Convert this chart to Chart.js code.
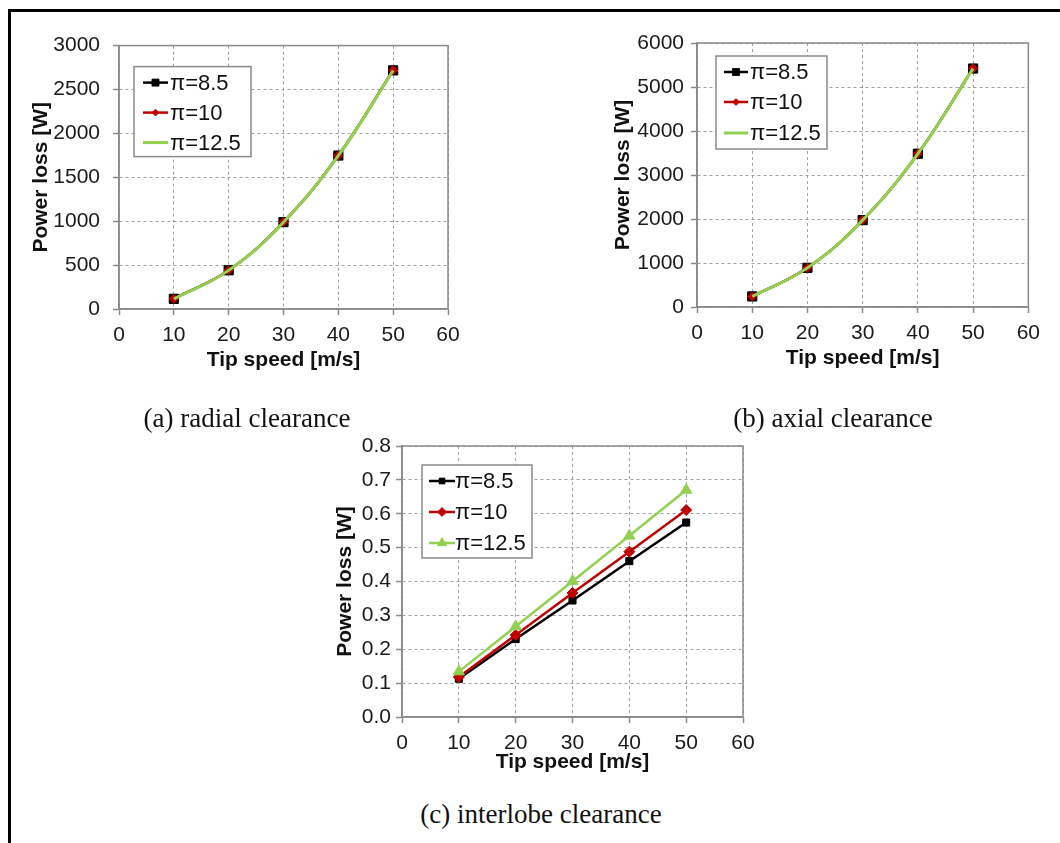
<!doctype html>
<html lang="en">
<head>
<meta charset="utf-8">
<title>Power loss vs tip speed</title>
<script src="https://cdn.jsdelivr.net/npm/chart.js@4.4.0/dist/chart.umd.min.js"></script>
<style>
  body { margin: 0; background: #fff; }
  #fig { position: relative; width: 1060px; height: 843px; overflow: hidden; }
  #frame { position: absolute; left: 8px; top: 9px; width: 1200px; height: 1000px;
           border-left: 3px solid #000; border-top: 3px solid #000; }
  .box { position: absolute; }
  .cap { position: absolute; font-family: "Liberation Serif", "Times New Roman", serif;
         font-size: 27px; line-height: 30px; color: #111; white-space: nowrap;
         transform: translateX(-50%); }
</style>
</head>
<body>
<div id="fig">
  <div id="frame"></div>

  <div class="box" style="left:20px; top:20px;"><canvas id="radialChart" width="450" height="360"></canvas></div>
  <div class="box" style="left:598px; top:20px;"><canvas id="axialChart" width="450" height="360"></canvas></div>
  <div class="box" style="left:320px; top:425px;"><canvas id="interlobeChart" width="450" height="370"></canvas></div>

  <div class="cap" style="left:247px; top:403px;">(a) radial clearance</div>
  <div class="cap" style="left:833px; top:403px;">(b) axial clearance</div>
  <div class="cap" style="left:541px; top:799px;">(c) interlobe clearance</div>
</div>

<script>
// data
var tipSpeed = [10, 20, 30, 40, 50];
var seriesNames = ['π=8.5', 'π=10', 'π=12.5'];

var radial_85  = [116, 441, 990, 1748, 2718];
var radial_10  = [116, 441, 990, 1749, 2720];
var radial_125 = [115, 440, 989, 1747, 2716];

var axial_85  = [240, 890, 1975, 3484, 5420];
var axial_10  = [240, 891, 1976, 3485, 5422];
var axial_125 = [239, 889, 1974, 3483, 5418];

var interlobe_85  = [0.113, 0.230, 0.344, 0.460, 0.574];
var interlobe_10  = [0.118, 0.242, 0.366, 0.488, 0.611];
var interlobe_125 = [0.134, 0.267, 0.401, 0.535, 0.670];

var FONT = '"Liberation Sans", Arial, sans-serif';
var BLACK = '#000000', RED = '#c00000', GREEN = '#92d050';
var AXIS_GREY = '#8a8a8a';

function pts(ys) {
  return tipSpeed.map(function (x, i) { return { x: x, y: ys[i] }; });
}

// grey solid frame round the plot area
var plotFrame = {
  id: 'plotFrame',
  beforeDatasetsDraw: function (chart) {
    var a = chart.chartArea, ctx = chart.ctx;
    ctx.save();
    ctx.strokeStyle = AXIS_GREY;
    ctx.lineWidth = 1.5;
    ctx.strokeRect(a.left, a.top, a.right - a.left, a.bottom - a.top);
    ctx.restore();
  }
};

// Excel-like boxed legend with line + marker samples
var boxLegend = {
  id: 'boxLegend',
  afterDatasetsDraw: function (chart, args, o) {
    var a = chart.chartArea, ctx = chart.ctx;
    var bx = a.left + o.dx, by = a.top + o.dy;
    ctx.save();
    ctx.setLineDash([]);
    ctx.fillStyle = '#fff';
    ctx.fillRect(bx, by, o.w, o.h);
    ctx.strokeStyle = AXIS_GREY;
    ctx.lineWidth = 1.5;
    ctx.strokeRect(bx, by, o.w, o.h);
    chart.data.datasets.forEach(function (ds, i) {
      var cy = by + o.rows[i];
      var x0 = bx + o.lineX, x1 = x0 + o.lineW;
      ctx.strokeStyle = ds.borderColor;
      ctx.lineWidth = ds.borderWidth;
      ctx.beginPath(); ctx.moveTo(x0, cy); ctx.lineTo(x1, cy); ctx.stroke();
      if (ds.pointRadius > 0) {
        ctx.fillStyle = ds.pointBackgroundColor;
        ctx.strokeStyle = ds.pointBorderColor;
        ctx.lineWidth = 1;
        Chart.helpers.drawPoint(ctx, { pointStyle: ds.pointStyle, rotation: 0,
          radius: ds.pointRadius * o.markScale, borderWidth: 1 }, (x0 + x1) / 2, cy);
      }
      ctx.fillStyle = '#111';
      ctx.font = '22px ' + FONT;
      ctx.textAlign = 'left';
      ctx.textBaseline = 'middle';
      ctx.fillText(ds.label, bx + o.textX, cy + 1);
    });
    ctx.restore();
  }
};

// order: later series drawn on top (lower order = on top in Chart.js)
function makeDataset(label, ys, color, style, radius, width, tension, order) {
  return {
    label: label,
    data: pts(ys),
    order: order,
    borderColor: color,
    backgroundColor: color,
    borderWidth: width,
    pointStyle: style,
    pointRadius: radius,
    pointHoverRadius: radius,
    pointBackgroundColor: color,
    pointBorderColor: color,
    pointBorderWidth: 1,
    tension: tension,
    fill: false
  };
}

function makeChart(id, datasets, cfg) {
  var ctx = document.getElementById(id).getContext('2d');
  return new Chart(ctx, {
    type: 'line',
    data: { datasets: datasets },
    plugins: [plotFrame, boxLegend],
    options: {
      responsive: false,
      animation: false,
      layout: { padding: cfg.padding },
      scales: {
        x: {
          type: 'linear',
          min: 0, max: 60,
          afterFit: function (s) { s.height = cfg.xHeight; },
          ticks: { stepSize: 10, color: '#1a1a1a', padding: 8, font: { size: 21, family: FONT } },
          grid: { color: '#a0a0a0', lineWidth: 1, tickLength: 6, tickColor: AXIS_GREY,
                  tickWidth: 1.5, tickBorderDash: [] },
          border: { color: AXIS_GREY, width: 1.5, dash: [3, 3] },
          title: { display: true, text: 'Tip speed [m/s]', color: '#111',
                   font: { size: 21, weight: 'bold', family: FONT },
                   padding: { top: 0, bottom: 2.4 } }
        },
        y: {
          min: 0, max: cfg.yMax,
          afterFit: function (s) { s.width = cfg.yWidth; },
          ticks: { stepSize: cfg.yStep, color: '#1a1a1a', padding: cfg.yTickPad,
                   font: { size: 21, family: FONT },
                   callback: function (v) { return cfg.yDigits ? v.toFixed(cfg.yDigits) : String(v); } },
          grid: { color: '#a0a0a0', lineWidth: 1, tickLength: 6, tickColor: AXIS_GREY,
                  tickWidth: 1.5, tickBorderDash: [] },
          border: { color: AXIS_GREY, width: 1.5, dash: [3, 3] },
          title: { display: true, text: 'Power loss [W]', color: '#111',
                   font: { size: 21, weight: 'bold', family: FONT },
                   padding: { top: cfg.yTitlePad, bottom: 0 } }
        }
      },
      plugins: {
        legend: { display: false },
        tooltip: { enabled: false },
        boxLegend: cfg.legend
      }
    }
  });
}

makeChart('radialChart', [
  makeDataset(seriesNames[0], radial_85, BLACK, 'rect', 6.5, 2.5, 0.4, 3),
  makeDataset(seriesNames[1], radial_10, RED, 'rectRot', 4.5, 2.5, 0.4, 2),
  makeDataset(seriesNames[2], radial_125, GREEN, 'circle', 0, 3, 0.4, 1)
], {
  padding: { left: 4, top: 23, right: 22, bottom: 5 },
  xHeight: 66, yWidth: 95, yMax: 3000, yStep: 500, yDigits: 0, yTickPad: 13, yTitlePad: 5,
  legend: { dx: 15, dy: 21, w: 117, h: 90, rows: [16, 46, 76], lineX: 9, lineW: 25, textX: 36, markScale: 0.75 }
});

makeChart('axialChart', [
  makeDataset(seriesNames[0], axial_85, BLACK, 'rect', 6.5, 2.5, 0.4, 3),
  makeDataset(seriesNames[1], axial_10, RED, 'rectRot', 4.5, 2.5, 0.4, 2),
  makeDataset(seriesNames[2], axial_125, GREEN, 'circle', 0, 3, 0.4, 1)
], {
  padding: { left: 4, top: 23, right: 13, bottom: 7 },
  xHeight: 66, yWidth: 95, yMax: 6000, yStep: 1000, yDigits: 0, yTickPad: 7, yTitlePad: 9,
  legend: { dx: 19, dy: 13, w: 111, h: 93, rows: [16, 46, 77], lineX: 8, lineW: 24, textX: 34, markScale: 0.75 }
});

makeChart('interlobeChart', [
  makeDataset(seriesNames[0], interlobe_85, BLACK, 'rect', 5, 2.5, 0, 3),
  makeDataset(seriesNames[1], interlobe_10, RED, 'rectRot', 5.5, 2.5, 0, 2),
  makeDataset(seriesNames[2], interlobe_125, GREEN, 'triangle', 6.5, 2.5, 0, 1)
], {
  padding: { left: 4, top: 21, right: 27, bottom: 18 },
  xHeight: 60, yWidth: 78, yMax: 0.8, yStep: 0.1, yDigits: 1, yTickPad: 5, yTitlePad: 8.4,
  legend: { dx: 20, dy: 19, w: 110, h: 93, rows: [16, 47, 78], lineX: 7, lineW: 26, textX: 33, markScale: 0.8 }
});
</script>
</body>
</html>
